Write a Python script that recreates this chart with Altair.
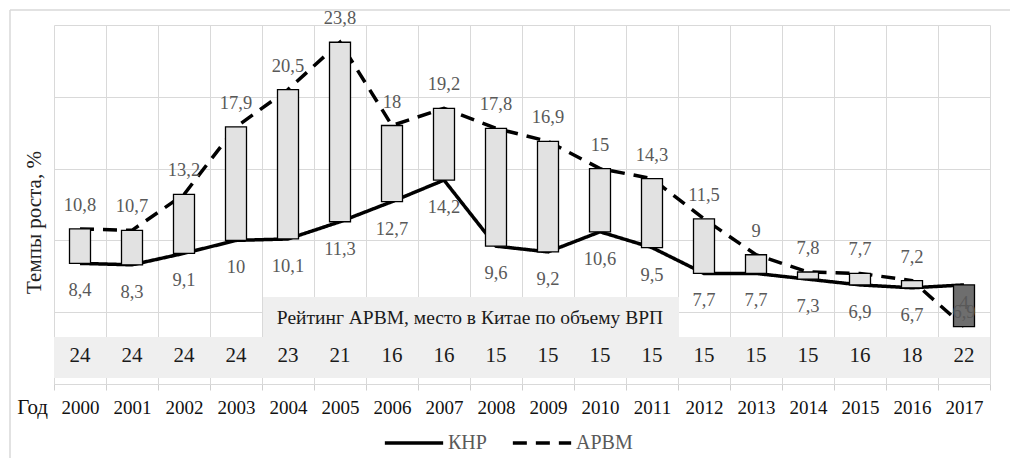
import altair as alt
import pandas as pd

years = [str(y) for y in range(2000, 2018)]
khp = [8.4, 8.3, 9.1, 10, 10.1, 11.3, 12.7, 14.2, 9.6, 9.2, 10.6, 9.5, 7.7, 7.7, 7.3, 6.9, 6.7, 6.9]
arvm = [10.8, 10.7, 13.2, 17.9, 20.5, 23.8, 18, 19.2, 17.8, 16.9, 15, 14.3, 11.5, 9, 7.8, 7.7, 7.2, 4]
rating = [24, 24, 24, 24, 23, 21, 16, 16, 15, 15, 15, 15, 15, 15, 15, 16, 18, 22]
series_names = ["КНР", "АРВМ"]

FONT = "Liberation Serif"


def fmt(v):
    return f"{v:g}".replace(".", ",")


df = pd.DataFrame({
    "year": years,
    "khp": khp,
    "arvm": arvm,
    "rating": [str(r) for r in rating],
    "khp_lbl": [fmt(v) for v in khp],
    "arvm_lbl": [fmt(v) for v in arvm],
})

long_df = pd.DataFrame({
    "year": years + years,
    "series": [series_names[0]] * len(years) + [series_names[1]] * len(years),
    "value": khp + arvm,
})

one = pd.DataFrame({"a": [0]})

xscale = alt.Scale(domain=years, paddingInner=0, paddingOuter=0)
yscale = alt.Scale(domain=[0, 25], nice=False, zero=True)

xaxis = alt.Axis(
    title=None, labelAngle=0, labelFont=FONT, labelFontSize=19, labelColor="#111111",
    tickBand="extent", ticks=True, tickColor="#cfcfcf", tickSize=6, tickWidth=1,
    grid=True, gridColor="#d9d9d9", gridWidth=1, domainColor="#d9d9d9", labelPadding=8,
)
yaxis = alt.Axis(
    values=[0, 5, 10, 15, 20, 25], labels=False, ticks=False, domain=False,
    grid=True, gridColor="#d9d9d9", gridWidth=1,
    title="Темпы роста, %", titleFont=FONT, titleFontSize=21, titleFontWeight="normal",
    titleColor="#222222", titlePadding=10, titleY=197,
)

X = alt.X("year:N", scale=xscale, axis=xaxis, sort=years)

frame_left = alt.Chart(one).mark_rule(color="#d9d9d9", strokeWidth=1.5).encode(
    x=alt.value(-44), y=alt.value(-15), y2=alt.value(460)
)
frame_top = alt.Chart(one).mark_rule(color="#d9d9d9", strokeWidth=1.5).encode(
    x=alt.value(-44), x2=alt.value(1000), y=alt.value(-15)
)

grid_layer = alt.Chart(df).mark_point(opacity=0).encode(
    x=X, y=alt.Y("khp:Q", scale=yscale, axis=yaxis)
)

label_band = alt.Chart(one).mark_rect(color="#efefef").encode(
    x=alt.value(209), x2=alt.value(625), y=alt.value(272), y2=alt.value(312)
)
rating_band = alt.Chart(one).mark_rect(color="#efefef").encode(
    x=alt.value(0), x2=alt.value(936), y=alt.value(312), y2=alt.value(353)
)
band_title = alt.Chart(one).mark_text(
    text="Рейтинг АРВМ, место в Китае по объему ВРП", font=FONT, fontSize=19.5,
    color="#1a1a1a", align="center", baseline="middle"
).encode(x=alt.value(416), y=alt.value(293))

rating_text = alt.Chart(df).mark_text(
    font=FONT, fontSize=21, color="#1a1a1a", baseline="middle"
).encode(x=X, y=alt.value(331), text="rating:N")

god = alt.Chart(one).mark_text(
    text="Год", font=FONT, fontSize=21, color="#111111", align="right", baseline="middle"
).encode(x=alt.value(-6), y=alt.value(383))

lines = alt.Chart(long_df).mark_line(color="black", strokeWidth=3.5, strokeCap="butt").encode(
    x=X,
    y=alt.Y("value:Q", scale=yscale, axis=yaxis),
    strokeDash=alt.StrokeDash(
        "series:N",
        scale=alt.Scale(domain=series_names, range=[[1, 0], [14, 9]]),
        legend=alt.Legend(
            title=None, orient="none", legendX=329, legendY=387, direction="horizontal",
            symbolType="stroke", symbolSize=3400, symbolStrokeWidth=3.5,
            symbolStrokeColor="black", labelFont=FONT, labelFontSize=20,
            labelColor="#595959", columnPadding=18, labelOffset=3,
        ),
    ),
    detail="series:N",
)

bars = alt.Chart(df).mark_bar(size=21, stroke="black", strokeWidth=1.3).encode(
    x=X,
    y=alt.Y("khp:Q", scale=yscale, axis=yaxis),
    y2="arvm:Q",
    fill=alt.condition("datum.arvm >= datum.khp", alt.value("#e2e2e2"), alt.value("#6e6e6e")),
)

khp_lbl = alt.Chart(df).mark_text(
    font=FONT, fontSize=18.5, color="#595959", dy=27, baseline="middle"
).encode(x=X, y=alt.Y("khp:Q", scale=yscale), text="khp_lbl:N")

arvm_lbl = alt.Chart(df).mark_text(
    font=FONT, fontSize=18.5, color="#595959", dy=-24, baseline="middle"
).encode(x=X, y=alt.Y("arvm:Q", scale=yscale), text="arvm_lbl:N")

chart = alt.layer(
    frame_left, frame_top, grid_layer, label_band, rating_band, band_title, rating_text,
    god, lines, bars, khp_lbl, arvm_lbl
).properties(
    width=936, height=359,
    autosize=alt.AutoSizeParams(type="none"),
    padding={"left": 46, "top": 17, "right": 20, "bottom": 74},
    background="white",
).configure_view(stroke=None)

chart.save("out.html", embed_options={"renderer": "svg", "actions": False})
